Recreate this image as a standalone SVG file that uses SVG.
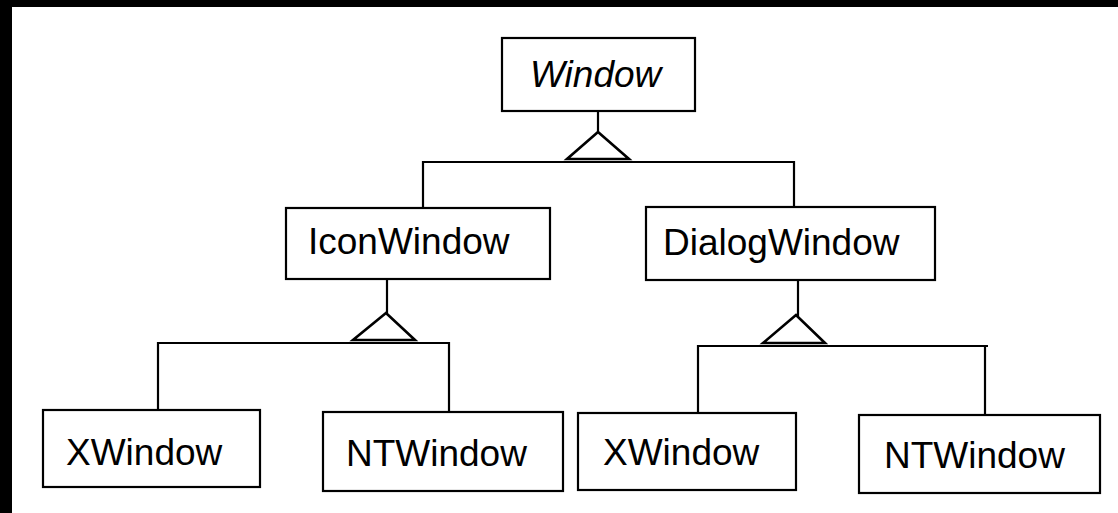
<svg xmlns="http://www.w3.org/2000/svg" width="1118" height="513" viewBox="0 0 1118 513">
<style>
.box{fill:#fff;stroke:#000;stroke-width:2.2}
.lbl{font-family:"Liberation Sans",Arial,Helvetica,sans-serif;font-size:37px;fill:#000}
.it{font-style:italic}
.ln{fill:none;stroke:#000;stroke-width:2.2}
.tri{fill:#fff;stroke:#000;stroke-width:2.6;stroke-linejoin:miter}
</style>
<rect x="0" y="0" width="1118" height="513" fill="#fff"/>
<rect x="0" y="0" width="1118" height="7" fill="#000"/>
<rect x="0" y="0" width="12" height="513" fill="#000"/>
<g id="connectors">
<line class="ln" x1="598" y1="111" x2="598" y2="132"/>
<line class="ln" x1="423" y1="162" x2="795" y2="162"/>
<line class="ln" x1="423" y1="161" x2="423" y2="208"/>
<line class="ln" x1="794" y1="161" x2="794" y2="207"/>
<polygon class="tri" points="598,132 567,159 629,159"/>
<line class="ln" x1="387" y1="279" x2="387" y2="313"/>
<line class="ln" x1="157" y1="343" x2="449" y2="343"/>
<line class="ln" x1="158" y1="342" x2="158" y2="410"/>
<line class="ln" x1="449" y1="342" x2="449" y2="412"/>
<polygon class="tri" points="386,313 353,340 415,340"/>
<line class="ln" x1="798" y1="280" x2="798" y2="316"/>
<line class="ln" x1="697" y1="346" x2="988" y2="346"/>
<line class="ln" x1="698" y1="345" x2="698" y2="413"/>
<line class="ln" x1="985" y1="345" x2="985" y2="415"/>
<polygon class="tri" points="796,315 763,343 825,343"/>
</g>
<g id="window">
<rect class="box" x="502" y="38" width="193" height="73"/>
<text class="lbl it" x="530" y="87">Window</text>
</g>
<g id="iconwindow">
<rect class="box" x="286" y="208" width="264" height="71"/>
<text class="lbl" x="308" y="254">IconWindow</text>
</g>
<g id="dialogwindow">
<rect class="box" x="646" y="207" width="289" height="73"/>
<text class="lbl" x="663" y="255">DialogWindow</text>
</g>
<g id="xwindow1">
<rect class="box" x="43" y="410" width="217" height="77"/>
<text class="lbl" x="66" y="465">XWindow</text>
</g>
<g id="ntwindow1">
<rect class="box" x="323" y="412" width="240" height="79"/>
<text class="lbl" x="346" y="466">NTWindow</text>
</g>
<g id="xwindow2">
<rect class="box" x="578" y="413" width="218" height="77"/>
<text class="lbl" x="603" y="465">XWindow</text>
</g>
<g id="ntwindow2">
<rect class="box" x="859" y="415" width="241" height="78"/>
<text class="lbl" x="884" y="468">NTWindow</text>
</g>
</svg>
